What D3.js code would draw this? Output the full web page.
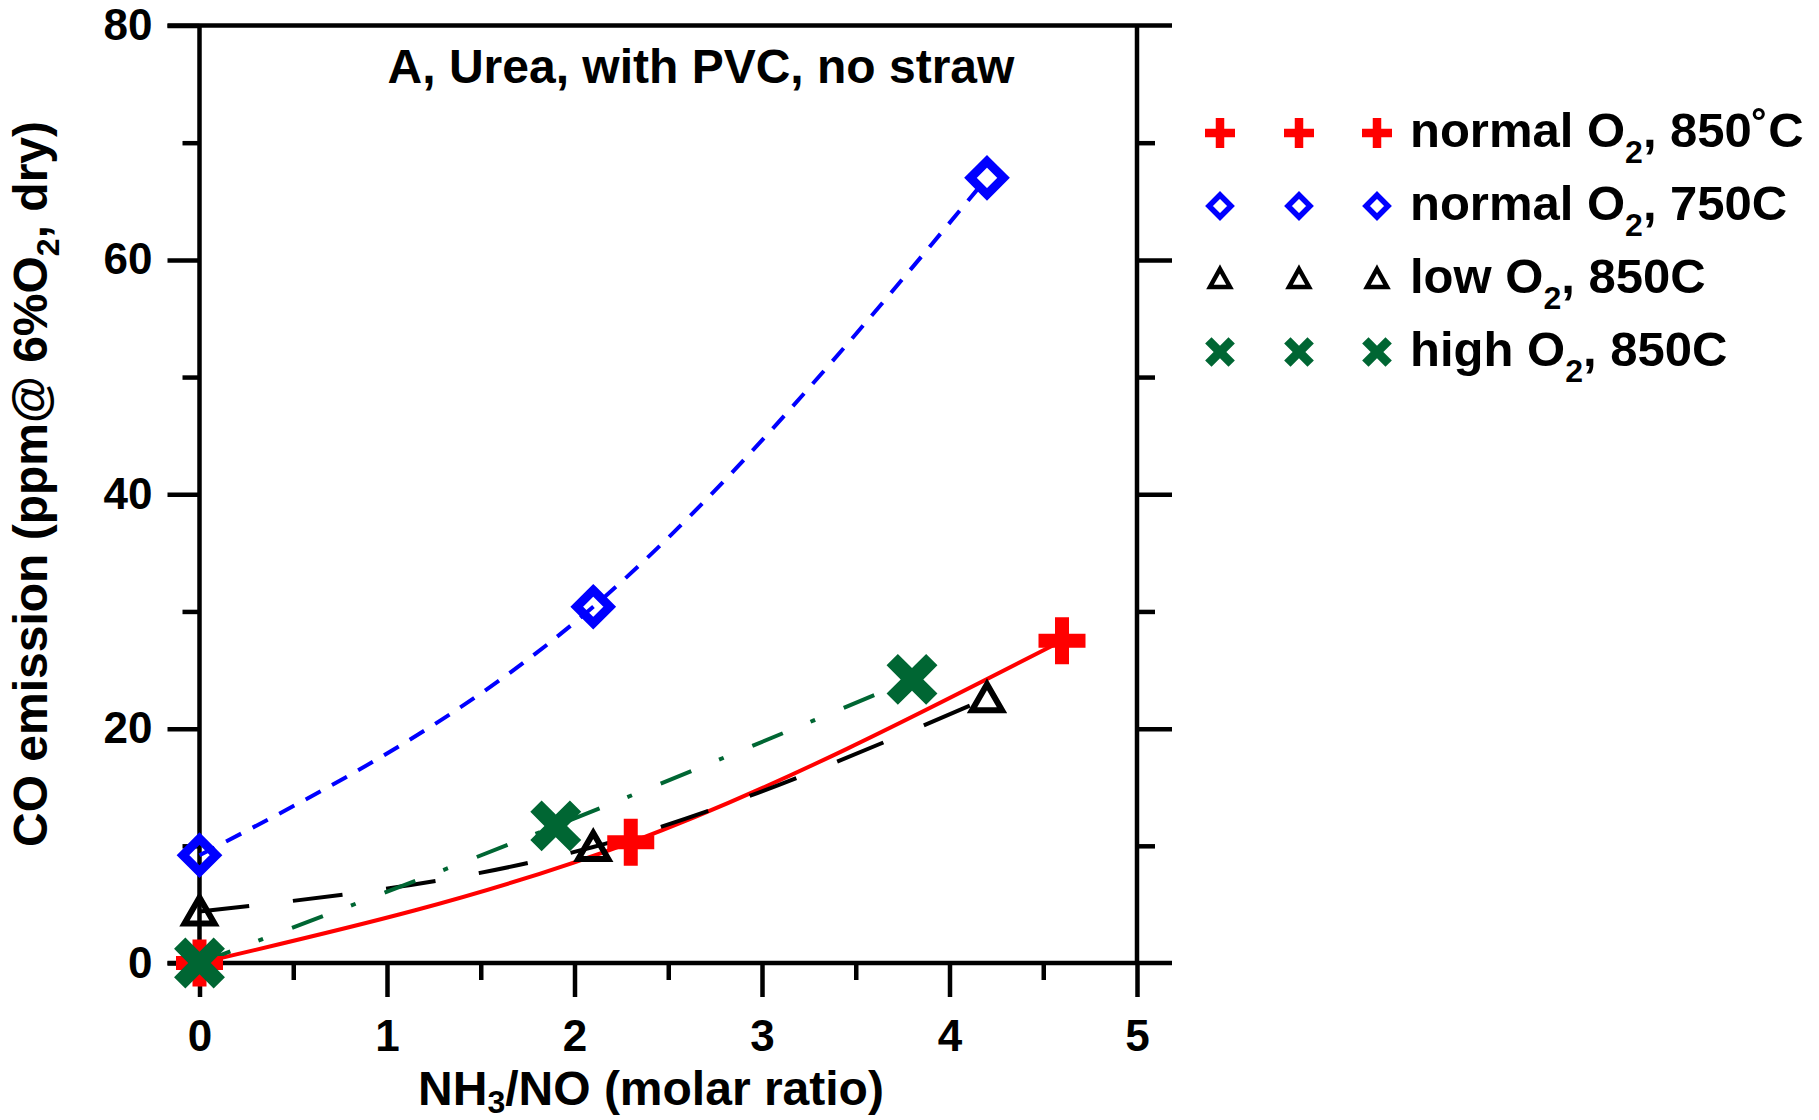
<!DOCTYPE html>
<html>
<head>
<meta charset="utf-8">
<script src="https://cdn.jsdelivr.net/npm/d3@7"></script>
<style>
  body { margin: 0; background: #fff; }
  text { font-family: "Liberation Sans", Arial, sans-serif; font-weight: bold; fill: #000; }
</style>
</head>
<body>
<div id="graph"></div>
<script>
// tick values
const xTicks = [0, 1, 2, 3, 4, 5];
const xMinor = [0.5, 1.5, 2.5, 3.5, 4.5];
const yTicks = [0, 20, 40, 60, 80];
const yMinor = [10, 30, 50, 70];

// series
const normal850X = [0, 2.3, 4.6];
const normal850Y = [0, 10.3, 27.5];
const normal750X = [0, 2.1, 4.2];
const normal750Y = [9.2, 30.4, 67.0];
const low850X = [0, 2.1, 4.2];
const low850Y = [4.4, 9.9, 22.6];
const high850X = [0, 1.9, 3.8];
const high850Y = [0, 11.7, 24.2];

const labelHead = ["normal O", "normal O", "low O", "high O"];
const labelTail = [", 850\u02DAC", ", 750C", ", 850C", ", 850C"];

const series = [
  {xs: normal850X, ys: normal850Y, color: "#ff0000", dash: null, shape: "plus"},
  {xs: normal750X, ys: normal750Y, color: "#0000ff", dash: "17,13", shape: "diamond"},
  {xs: low850X, ys: low850Y, color: "#000000", dash: "50,44", shape: "triangle"},
  {xs: high850X, ys: high850Y, color: "#006633", dash: "33,30,5,31", shape: "cross"}
];

const width = 1819, height = 1120;
const x = d3.scaleLinear().domain([0, 5]).range([199.5, 1137]);
const y = d3.scaleLinear().domain([0, 80]).range([963, 25.5]);

const svg = d3.select("#graph").append("svg")
    .attr("width", width)
    .attr("height", height);

// marker shapes (big = plot marker, otherwise legend size)
function plusPath(a, t) {
  const h = t / 2;
  return `M${-h},${-a}H${h}V${-h}H${a}V${h}H${h}V${a}H${-h}V${h}H${-a}V${-h}H${-h}Z`;
}
function drawMarker(g, shape, color, big) {
  if (shape === "plus") {
    g.append("path").attr("d", big ? plusPath(23.5, 14) : plusPath(15, 8.5)).attr("fill", color);
  } else if (shape === "cross") {
    g.append("path").attr("d", big ? plusPath(28, 16) : plusPath(16.5, 9))
        .attr("transform", "rotate(45)").attr("fill", color);
  } else if (shape === "diamond") {
    const r = big ? 16.5 : 11;
    g.append("path").attr("d", `M0,${-r}L${r},0L0,${r}L${-r},0Z`)
        .attr("fill", "none").attr("stroke", color).attr("stroke-width", big ? 9 : 5.5);
  } else if (shape === "triangle") {
    const w = big ? 15 : 10, hh = big ? 12 : 8;
    g.append("path").attr("d", `M0,${-hh - 2}L${w},${hh}L${-w},${hh}Z`)
        .attr("fill", "none").attr("stroke", color).attr("stroke-width", big ? 6 : 4.5)
        .attr("stroke-linejoin", "miter");
  }
}

// axes
function styleAxis(g) {
  g.select(".domain").remove();
  g.attr("font-family", null).attr("font-size", null);
  g.selectAll("line").attr("stroke", "#000").attr("stroke-width", 4.5);
  g.selectAll("text").attr("font-size", 44).attr("fill", "#000");
}

svg.append("g").attr("transform", `translate(${x(0)},0)`)
    .call(d3.axisLeft(y).tickValues(yTicks).tickSize(32).tickPadding(15).tickFormat(d3.format("d")))
    .call(styleAxis);
svg.append("g").attr("transform", `translate(${x(0)},0)`)
    .call(d3.axisLeft(y).tickValues(yMinor).tickSize(17).tickFormat(""))
    .call(styleAxis);
svg.append("g").attr("transform", `translate(${x(5)},0)`)
    .call(d3.axisRight(y).tickValues([20, 40, 60]).tickSize(35).tickFormat(""))
    .call(styleAxis);
svg.append("g").attr("transform", `translate(${x(5)},0)`)
    .call(d3.axisRight(y).tickValues(yMinor).tickSize(18).tickFormat(""))
    .call(styleAxis);
svg.append("g").attr("transform", `translate(0,${y(0)})`)
    .call(d3.axisBottom(x).tickValues(xTicks).tickSize(34).tickPadding(23).tickFormat(d3.format("d")))
    .call(styleAxis);
svg.append("g").attr("transform", `translate(0,${y(0)})`)
    .call(d3.axisBottom(x).tickValues(xMinor).tickSize(17).tickFormat(""))
    .call(styleAxis);

// frame
const frame = svg.append("g").attr("stroke", "#000").attr("stroke-width", 4.5);
frame.append("line").attr("x1", x(0) - 32).attr("x2", x(5) + 35).attr("y1", y(0)).attr("y2", y(0));
frame.append("line").attr("x1", x(0) - 32).attr("x2", x(5) + 35).attr("y1", y(80)).attr("y2", y(80));
frame.append("line").attr("x1", x(0)).attr("x2", x(0)).attr("y1", y(80)).attr("y2", y(0));
frame.append("line").attr("x1", x(5)).attr("x2", x(5)).attr("y1", y(80)).attr("y2", y(0));

// fitted curves
const line = d3.line()
    .x(d => x(d[0]))
    .y(d => y(d[1]))
    .curve(d3.curveMonotoneX);

series.forEach(s => {
  const pts = s.xs.map((v, i) => [v, s.ys[i]]);
  svg.append("path")
      .datum(pts)
      .attr("d", line)
      .attr("fill", "none")
      .attr("stroke", s.color)
      .attr("stroke-width", 4)
      .attr("stroke-dasharray", s.dash);
});

// markers
series.forEach(s => {
  s.xs.forEach((v, i) => {
    const g = svg.append("g").attr("transform", `translate(${x(v)},${y(s.ys[i])})`);
    drawMarker(g, s.shape, s.color, true);
  });
});

// legend
const legendRows = [133, 206, 279, 352];
const legendCols = [1220, 1299, 1377];
series.forEach((s, i) => {
  legendCols.forEach(cx => {
    const g = svg.append("g").attr("transform", `translate(${cx},${legendRows[i]})`);
    drawMarker(g, s.shape, s.color, false);
  });
  const t = svg.append("text")
      .attr("x", 1410)
      .attr("y", legendRows[i] + 14)
      .attr("font-size", 49);
  t.append("tspan").text(labelHead[i]);
  t.append("tspan").attr("dy", 16).attr("font-size", 32).text("2");
  t.append("tspan").attr("dy", -16).text(labelTail[i]);
});

// titles
svg.append("text")
    .attr("x", 701).attr("y", 83)
    .attr("text-anchor", "middle")
    .attr("font-size", 48)
    .text("A, Urea, with PVC, no straw");

const xt = svg.append("text")
    .attr("x", 651).attr("y", 1104.5)
    .attr("text-anchor", "middle")
    .attr("font-size", 48);
xt.append("tspan").text("NH");
xt.append("tspan").attr("dy", 8).attr("font-size", 32).text("3");
xt.append("tspan").attr("dy", -8).text("/NO (molar ratio)");

const yt = svg.append("text")
    .attr("transform", "translate(47,484) rotate(-90)")
    .attr("text-anchor", "middle")
    .attr("font-size", 48);
yt.append("tspan").text("CO emission (ppm@ 6%O");
yt.append("tspan").attr("dy", 12).attr("font-size", 32).text("2");
yt.append("tspan").attr("dy", -12).text(", dry)");
</script>
</body>
</html>
